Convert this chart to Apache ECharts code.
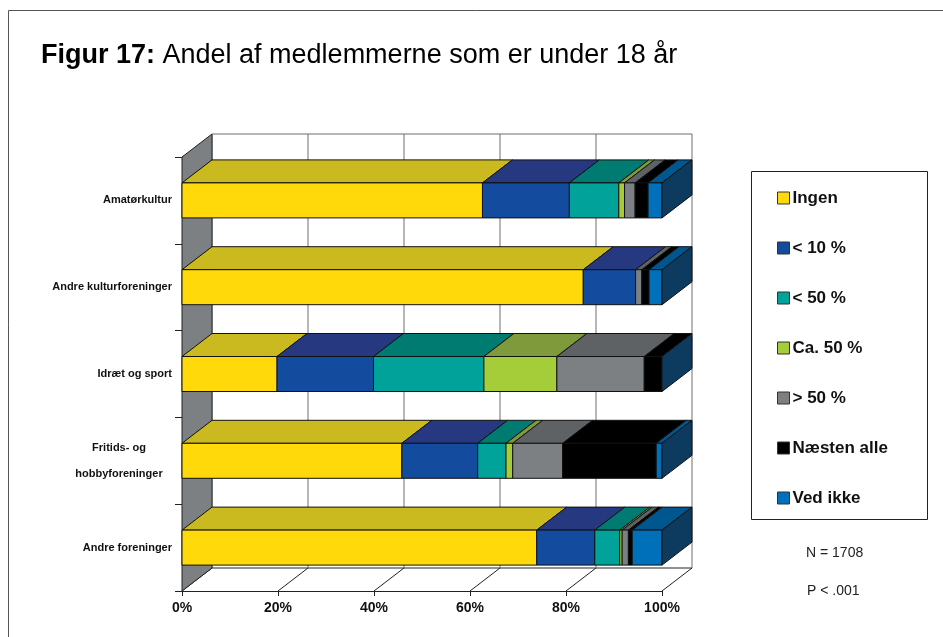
<!DOCTYPE html>
<html>
<head>
<meta charset="utf-8">
<title>Figur 17</title>
<script src="https://cdn.jsdelivr.net/npm/echarts@6/dist/echarts.min.js"></script>
<style>
  html, body { margin: 0; padding: 0; background: #fff; }
  #main { width: 943px; height: 637px; }
</style>
</head>
<body>
<div id="main"></div>
<script>
const categories = ['Amatørkultur', 'Andre kulturforeninger', 'Idræt og sport', 'Fritids- og hobbyforeninger', 'Andre foreninger']
const seriesNames = ['Ingen', '< 10 %', '< 50 %', 'Ca. 50 %', '> 50 %', 'Næsten alle', 'Ved ikke']
const tickValues = [0, 20, 40, 60, 80, 100]

// one array per answer, same order as categories
const ingen = [62.6, 83.6, 19.8, 45.8, 73.9]
const under10 = [18.1, 10.9, 20.1, 15.8, 12.1]
const under50 = [10.3, 0, 23.0, 5.9, 5.2]
const ca50 = [1.2, 0, 15.2, 1.4, 0.5]
const over50 = [2.2, 1.3, 18.2, 10.4, 1.3]
const naestenAlle = [2.7, 1.5, 3.7, 19.5, 0.8]
const vedIkke = [2.9, 2.7, 0, 1.2, 6.2]
const seriesValues = [ingen, under10, under50, ca50, over50, naestenAlle, vedIkke]

const frontColors = ['#FFD90A', '#134B9F', '#00A29A', '#A4CD39', '#7D8083', '#000000', '#0070BA']
const topColors = ['#CBB920', '#263880', '#007B71', '#7E9A3A', '#5E6265', '#000000', '#00568E']
const sideColor = '#0D3B60'

const FONT = '"Liberation Sans", Arial, sans-serif'
const depthX = 30
const depthY = -23
const barSize = 35

var myChart = echarts.init(document.getElementById('main'), null, { renderer: 'canvas' })

function poly(points, fill, stroke, lineWidth) {
  return {
    type: 'polygon',
    shape: { points: points },
    style: { fill: fill, stroke: stroke, lineWidth: lineWidth === undefined ? 1 : lineWidth }
  }
}

// walls, back grid lines and floor
function renderFrame(params, api) {
  const v = api.value(0)
  const band = api.size([0, 1])[1]
  const topY = api.coord([v, 0])[1] - band / 2
  const bottomY = api.coord([v, categories.length - 1])[1] + band / 2
  const x = api.coord([v, 0])[0]
  const children = []
  children.push({
    type: 'line',
    shape: { x1: x + depthX, y1: topY + depthY, x2: x + depthX, y2: bottomY + depthY },
    style: { stroke: '#6e6e6e', lineWidth: 1 }
  })
  children.push({
    type: 'line',
    shape: { x1: x, y1: bottomY, x2: x + depthX, y2: bottomY + depthY },
    style: { stroke: '#222', lineWidth: 1 }
  })
  if (v === 0) {
    children.push(poly([[x, topY], [x + depthX, topY + depthY], [x + depthX, bottomY + depthY], [x, bottomY]], '#7D8083', '#222'))
    const right = api.coord([100, 0])[0]
    children.push({
      type: 'line',
      shape: { x1: x + depthX, y1: topY + depthY, x2: right + depthX, y2: topY + depthY },
      style: { stroke: '#6e6e6e', lineWidth: 1 }
    })
    children.push({
      type: 'line',
      shape: { x1: x + depthX, y1: bottomY + depthY, x2: right + depthX, y2: bottomY + depthY },
      style: { stroke: '#222', lineWidth: 1 }
    })
  }
  return { type: 'group', children: children }
}

function renderSegment(seriesIndex) {
  return function (params, api) {
    const start = api.value(0)
    const end = api.value(1)
    const cat = api.value(2)
    if (end <= start) return null
    const a = api.coord([start, cat])
    const b = api.coord([end, cat])
    const y0 = a[1] - barSize / 2
    const y1 = a[1] + barSize / 2
    return {
      type: 'group',
      children: [
        poly([[a[0], y0], [a[0] + depthX, y0 + depthY], [b[0] + depthX, y0 + depthY], [b[0], y0]], topColors[seriesIndex], '#111'),
        poly([[a[0], y0], [b[0], y0], [b[0], y1], [a[0], y1]], frontColors[seriesIndex], '#111')
      ]
    }
  }
}

function renderSide(params, api) {
  const p = api.coord([api.value(0), api.value(1)])
  const y0 = p[1] - barSize / 2
  const y1 = p[1] + barSize / 2
  return poly([[p[0], y0], [p[0] + depthX, y0 + depthY], [p[0] + depthX, y1 + depthY], [p[0], y1]], sideColor, '#111')
}

const series = [{
  type: 'custom',
  silent: true,
  clip: false,
  renderItem: renderFrame,
  encode: { x: 0 },
  data: tickValues.map(v => [v]),
  z: 1
}]

const running = categories.map(() => 0)
seriesNames.forEach((name, s) => {
  const rows = seriesValues[s].map((val, c) => {
    const row = [running[c], running[c] + val, c]
    running[c] += val
    return row
  })
  series.push({
    name: name,
    type: 'custom',
    clip: false,
    renderItem: renderSegment(s),
    encode: { x: [0, 1], y: 2 },
    itemStyle: { color: frontColors[s] },
    data: rows,
    z: 2
  })
})

series.push({
  type: 'custom',
  silent: true,
  clip: false,
  renderItem: renderSide,
  encode: { x: 0, y: 1 },
  data: categories.map((c, i) => [100, i]),
  z: 3
})

const option = {
  animation: false,
  backgroundColor: '#fff',
  title: {
    left: 36,
    top: 37,
    text: '{b|Figur 17:} Andel af medlemmerne som er under 18 år',
    textStyle: {
      fontFamily: FONT,
      fontSize: 27,
      fontWeight: 'normal',
      color: '#000',
      rich: { b: { fontFamily: FONT, fontSize: 27, fontWeight: 'bold', color: '#000' } }
    }
  },
  grid: { left: 182, top: 157, width: 480, height: 434, containLabel: false },
  xAxis: {
    type: 'value',
    min: 0,
    max: 100,
    interval: 20,
    splitLine: { show: false },
    axisLine: { show: true, lineStyle: { color: '#222', width: 1 } },
    axisTick: { show: true, length: 5, lineStyle: { color: '#222' } },
    axisLabel: {
      formatter: '{value}%',
      margin: 10,
      fontFamily: FONT,
      fontSize: 14,
      fontWeight: 'bold',
      color: '#111'
    }
  },
  yAxis: {
    type: 'category',
    inverse: true,
    data: categories,
    axisLine: { show: true, lineStyle: { color: '#222', width: 1 } },
    axisTick: { show: true, length: 7, lineStyle: { color: '#222' } },
    axisLabel: {
      margin: 10,
      fontFamily: FONT,
      fontSize: 11,
      fontWeight: 'bold',
      color: '#111',
      interval: 0,
      formatter(name) {
        if (name.indexOf('Fritids') === 0) return '{w|Fritids- og}\n{w|hobbyforeninger}'
        return name
      },
      rich: {
        w: { fontFamily: FONT, fontSize: 11, fontWeight: 'bold', color: '#111', width: 106, align: 'center', lineHeight: 26 }
      }
    }
  },
  legend: {
    orient: 'vertical',
    left: 777,
    top: 188,
    padding: 0,
    data: seriesNames,
    icon: 'rect',
    itemWidth: 12,
    itemHeight: 12,
    itemGap: 30,
    itemStyle: { borderColor: '#333', borderWidth: 1 },
    selectedMode: false,
    textStyle: {
      fontFamily: FONT,
      fontSize: 17,
      fontWeight: 'bold',
      color: '#111',
      lineHeight: 20,
      padding: [0, 0, 0, -2]
    }
  },
  graphic: [
    { type: 'rect', shape: { x: 8.5, y: 10.5, width: 960, height: 700 }, style: { fill: 'none', stroke: '#555', lineWidth: 1 }, silent: true, z: -1 },
    { type: 'rect', shape: { x: 751.5, y: 171.5, width: 176, height: 348 }, style: { fill: '#fff', stroke: '#222', lineWidth: 1 }, silent: true, z: -1 },
    { type: 'text', left: 806, top: 546, style: { text: 'N = 1708', font: '14px ' + FONT, fill: '#222' }, silent: true },
    { type: 'text', left: 807, top: 584, style: { text: 'P < .001', font: '14px ' + FONT, fill: '#222' }, silent: true }
  ],
  series: series
}

myChart.setOption(option)
</script>
</body>
</html>
